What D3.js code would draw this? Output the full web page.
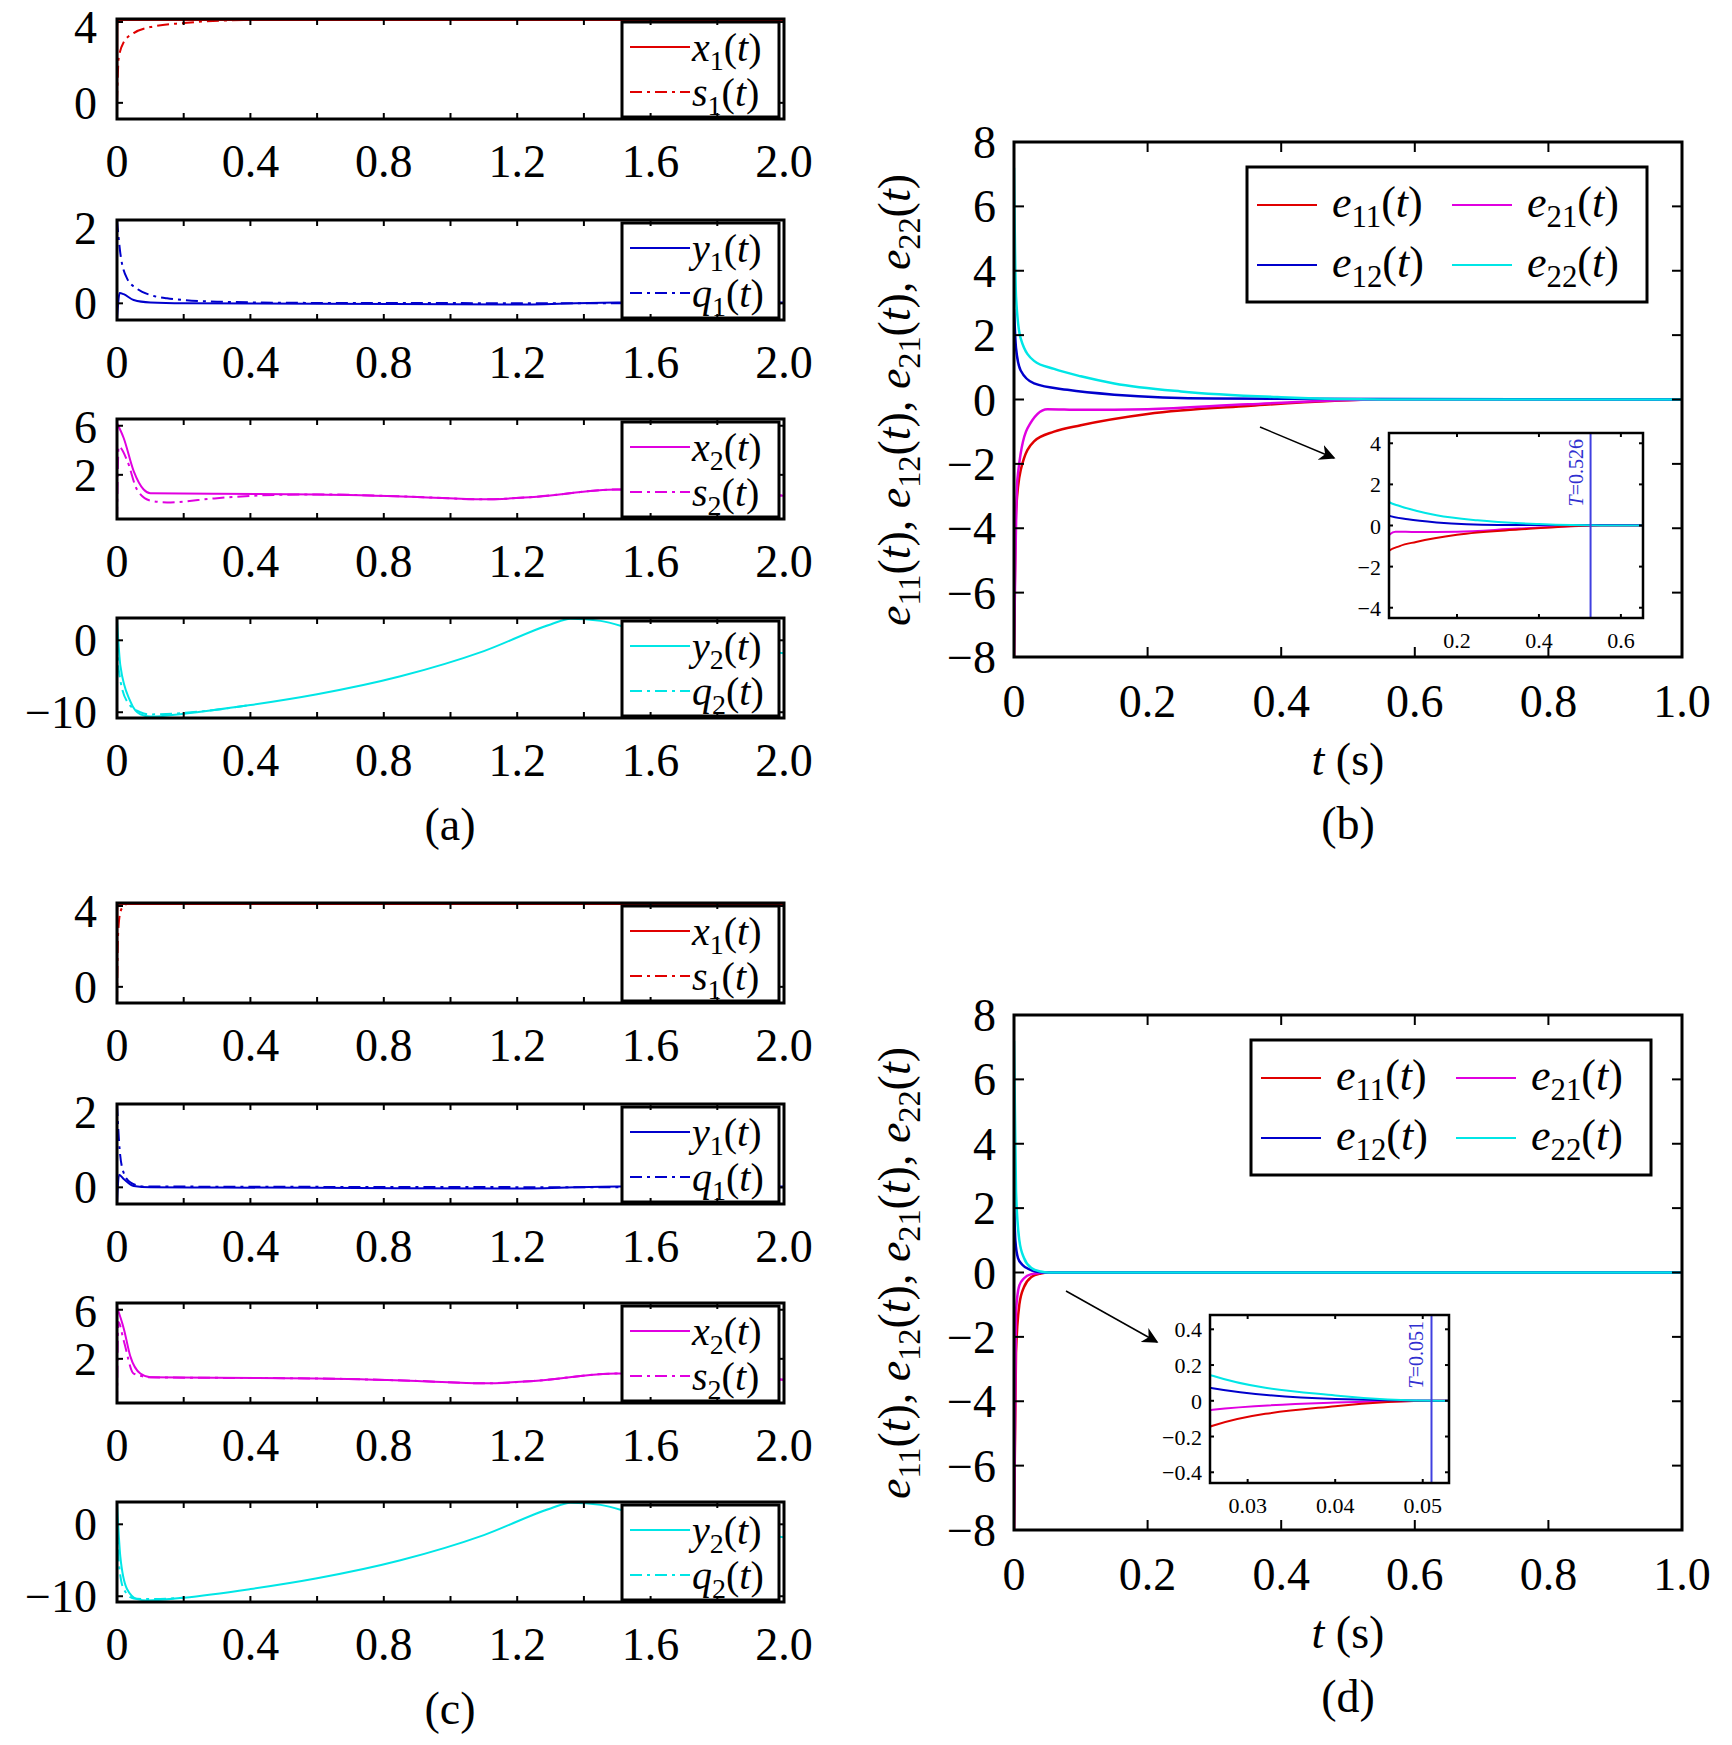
<!DOCTYPE html>
<html><head><meta charset="utf-8">
<script src="https://cdn.jsdelivr.net/npm/d3@7"></script>
<style>body{margin:0;background:#fff}text{font-family:"Liberation Serif","Times New Roman","DejaVu Serif",serif;fill:#000}</style>
</head><body><svg id="c" width="1732" height="1745"></svg>
<script>
// --- data ---
var tA_x1 = [0, 0.001, 0.003, 2.0], vA_x1 = [-0.8, 3.8, 4.1, 4.1];
var tA_s1 = [0, 0.005, 0.02, 0.05, 0.1, 0.2, 0.4, 2.0], vA_s1 = [0, 2.2, 3.0, 3.45, 3.75, 3.95, 4.1, 4.1];
var tA_y1 = [0, 0.008, 0.02, 0.05, 0.1, 0.2, 0.6, 1.2, 1.5, 2.0], vA_y1 = [-0.4, 0.25, 0.22, 0.08, 0.02, 0, -0.01, -0.03, 0.02, 0.02];
var tA_q1 = [0, 0.01, 0.03, 0.06, 0.1, 0.15, 0.3, 0.6, 2.0], vA_q1 = [2.0, 1.2, 0.6, 0.35, 0.2, 0.12, 0.04, 0.01, 0];
var tA_x2 = [0, 0.02, 0.05, 0.08, 0.1, 0.3, 0.6, 0.9, 1.1, 1.25, 1.5, 2.0], vA_x2 = [6.2, 5.0, 2.3, 0.8, 0.5, 0.45, 0.4, 0.2, 0.0, 0.2, 0.8, 0.3];
var tA_s2 = [0, 0.005, 0.03, 0.06, 0.1, 0.15, 0.3, 0.5, 0.6, 0.9, 1.1, 1.25, 1.5, 2.0], vA_s2 = [-1.6, 4.3, 3.2, 0.8, -0.1, -0.25, 0.1, 0.38, 0.4, 0.2, 0.0, 0.2, 0.8, 0.3];
var tA_y2 = [0, 0.01, 0.04, 0.07, 0.1, 0.2, 0.4, 0.6, 0.85, 1.1, 1.3, 1.36, 1.45, 1.55, 2.0], vA_y2 = [3, -3.5, -8.5, -10.3, -10.6, -10.2, -9.0, -7.5, -5.0, -1.5, 2.2, 3.0, 2.7, 1.5, -1.8];
var tA_q2 = [0, 0.005, 0.03, 0.07, 0.1, 0.2, 0.4], vA_q2 = [0, -4.0, -8.5, -10.0, -10.3, -10.1, -9.0];

var tC_x1 = [0, 0.001, 0.003, 2.0], vC_x1 = [-0.8, 3.8, 4.1, 4.1];
var tC_s1 = [0, 0.003, 0.01, 0.02, 0.03, 2.0], vC_s1 = [-0.8, 2.5, 3.7, 4.0, 4.1, 4.1];
var tC_y1 = [0, 0.006, 0.02, 0.05, 0.1, 0.6, 1.2, 1.5, 2.0], vC_y1 = [-0.4, 0.3, 0.2, 0.03, 0, -0.01, -0.03, 0.02, 0.02];
var tC_q1 = [0, 0.008, 0.02, 0.04, 0.08, 2.0], vC_q1 = [2.0, 0.9, 0.35, 0.12, 0.02, 0];
var tC_x2 = [0, 0.02, 0.04, 0.07, 0.1, 0.3, 0.6, 0.9, 1.1, 1.25, 1.5, 2.0], vC_x2 = [6.2, 4.5, 2.2, 0.8, 0.5, 0.45, 0.4, 0.2, 0.0, 0.2, 0.8, 0.3];
var tC_s2 = [0, 0.004, 0.02, 0.05, 0.1, 0.3, 0.6, 0.9, 1.1, 1.25, 1.5, 2.0], vC_s2 = [-1.6, 5.0, 3.5, 0.8, 0.5, 0.45, 0.4, 0.2, 0.0, 0.2, 0.8, 0.3];
var tC_y2 = [0, 0.01, 0.03, 0.06, 0.09, 0.2, 0.4, 0.6, 0.85, 1.1, 1.3, 1.36, 1.45, 1.55, 2.0], vC_y2 = [3, -4.5, -9.0, -10.4, -10.6, -10.2, -9.0, -7.5, -5.0, -1.5, 2.2, 3.0, 2.7, 1.5, -1.8];
var tC_q2 = [0, 0.005, 0.02, 0.05, 0.1, 0.2], vC_q2 = [0, -5.0, -9.0, -10.3, -10.4, -10.2];

var tB_e11 = [0, 0.003, 0.01, 0.03, 0.06, 0.1, 0.2, 0.35, 0.55, 1.0], vB_e11 = [-8, -3.5, -2.2, -1.3, -1.0, -0.8, -0.45, -0.2, 0, 0];
var tB_e12 = [0, 0.003, 0.01, 0.03, 0.08, 0.15, 0.3, 1.0], vB_e12 = [2.8, 1.6, 0.9, 0.5, 0.3, 0.15, 0.03, 0];
var tB_e21 = [0, 0.005, 0.02, 0.05, 0.1, 0.2, 0.35, 0.55, 1.0], vB_e21 = [-8, -2.5, -0.9, -0.3, -0.32, -0.3, -0.15, 0, 0];
var tB_e22 = [0, 0.003, 0.01, 0.03, 0.06, 0.1, 0.15, 0.25, 0.4, 0.55, 1.0], vB_e22 = [7.2, 3.2, 1.9, 1.2, 0.95, 0.72, 0.5, 0.25, 0.07, 0, 0];

var tD_e11 = [0, 0.003, 0.008, 0.015, 0.026, 0.04, 0.052, 1.0], vD_e11 = [-8, -2.5, -1.0, -0.45, -0.14, -0.03, 0, 0];
var tD_e12 = [0, 0.002, 0.006, 0.012, 0.026, 0.04, 0.052, 1.0], vD_e12 = [2.2, 1.0, 0.45, 0.25, 0.07, 0.01, 0, 0];
var tD_e21 = [0, 0.003, 0.008, 0.015, 0.026, 0.04, 0.052, 1.0], vD_e21 = [-8, -1.2, -0.4, -0.18, -0.05, -0.01, 0, 0];
var tD_e22 = [0, 0.003, 0.008, 0.015, 0.026, 0.04, 0.052, 1.0], vD_e22 = [7.2, 2.5, 1.0, 0.45, 0.14, 0.03, 0, 0];

var aTicks = [0, 0.4, 0.8, 1.2, 1.6, 2.0];
var bTicks = [0, 0.2, 0.4, 0.6, 0.8, 1.0];
var eTicks = [-8, -6, -4, -2, 0, 2, 4, 6, 8];
var red = "#e00000", blue = "#0000cc", mag = "#e000e0", cyan = "#00e6e6";

var svg = d3.select("#c");
var clipN = 0;
function zip(t, v) { return t.map(function (d, i) { return [d, v[i]]; }); }
function fmt(d) { return d < 0 ? "\u2212" + Math.abs(d) : String(d); }

function curve(g, x, y, t, v, color, dash, w) {
  g.append("path").datum(zip(t, v))
    .attr("fill", "none").attr("stroke", color).attr("stroke-width", w || 2)
    .attr("stroke-dasharray", dash ? "12,5,3,5" : null)
    .attr("d", d3.line().x(function (d) { return x(d[0]); }).y(function (d) { return y(d[1]); }).curve(d3.curveMonotoneX));
}

function frame(g, x, y, xt, yt, len, sw) {
  var r = x.range(), b = y.range();
  xt.forEach(function (t) {
    g.append("line").attr("x1", x(t)).attr("x2", x(t)).attr("y1", b[0]).attr("y2", b[0] - len).attr("stroke", "#000").attr("stroke-width", 2);
    g.append("line").attr("x1", x(t)).attr("x2", x(t)).attr("y1", b[1]).attr("y2", b[1] + len).attr("stroke", "#000").attr("stroke-width", 2);
  });
  yt.forEach(function (t) {
    g.append("line").attr("y1", y(t)).attr("y2", y(t)).attr("x1", r[0]).attr("x2", r[0] + len).attr("stroke", "#000").attr("stroke-width", 2);
    g.append("line").attr("y1", y(t)).attr("y2", y(t)).attr("x1", r[1]).attr("x2", r[1] - len).attr("stroke", "#000").attr("stroke-width", 2);
  });
  g.append("rect").attr("x", r[0]).attr("y", b[1]).attr("width", r[1] - r[0]).attr("height", b[0] - b[1])
    .attr("fill", "none").attr("stroke", "#000").attr("stroke-width", sw);
}

function clip(g, x, y) {
  var id = "cp" + (clipN++), r = x.range(), b = y.range();
  g.append("clipPath").attr("id", id).append("rect").attr("x", r[0]).attr("y", b[1]).attr("width", r[1] - r[0]).attr("height", b[0] - b[1]);
  return g.append("g").attr("clip-path", "url(#" + id + ")");
}

function label(el, base, sub, size) {
  el.append("tspan").attr("font-style", "italic").text(base);
  el.append("tspan").attr("font-size", size * 0.7).attr("dy", size * 0.22).text(sub);
  el.append("tspan").attr("dy", -size * 0.22).text("(");
  el.append("tspan").attr("font-style", "italic").text("t");
  el.append("tspan").text(")");
}

// small stacked panel
function small(top, yDom, yTicks, tA, vA, tB, vB, color, n1, n2, sub) {
  var x = d3.scaleLinear().domain([0, 2]).range([117, 784]);
  var y = d3.scaleLinear().domain(yDom).range([top + 100, top]);
  var g = svg.append("g");
  var cg = clip(g, x, y);
  curve(cg, x, y, tB, vB, color, true);
  curve(cg, x, y, tA, vA, color, false);
  // legend
  var lg = g.append("g");
  lg.append("rect").attr("x", 622).attr("y", top + 3).attr("width", 157).attr("height", 95).attr("fill", "#fff").attr("stroke", "#000").attr("stroke-width", 3);
  [[n1, false, top + 28], [n2, true, top + 73]].forEach(function (e) {
    lg.append("line").attr("x1", 630).attr("x2", 690).attr("y1", e[2]).attr("y2", e[2]).attr("stroke", color).attr("stroke-width", 2)
      .attr("stroke-dasharray", e[1] ? "12,5,3,5" : null);
    label(lg.append("text").attr("x", 692).attr("y", e[2] + 14).attr("font-size", 40), e[0], sub, 40);
  });
  frame(g, x, y, d3.range(0, 2.01, 0.2), yTicks, 6, 3);
  aTicks.forEach(function (t) {
    g.append("text").attr("x", x(t)).attr("y", top + 158).attr("text-anchor", "middle").attr("font-size", 46).text(t === 0 ? "0" : t.toFixed(1));
  });
  yTicks.forEach(function (t) {
    g.append("text").attr("x", 97).attr("y", Math.max(y(t) + 16, top + 24)).attr("text-anchor", "end").attr("font-size", 46).text(fmt(t));
  });
}

function stack(off, d) {
  small(off + 19, [-0.8, 4.15], [0, 4], d[0], d[1], d[2], d[3], red, "x", "s", "1");
  small(off + 220, [-0.4, 2.0], [0, 2], d[4], d[5], d[6], d[7], blue, "y", "q", "1");
  small(off + 419, [-1.6, 6.55], [2, 6], d[8], d[9], d[10], d[11], mag, "x", "s", "2");
  small(off + 618, [-10.8, 3.1], [-10, 0], d[12], d[13], d[14], d[15], cyan, "y", "q", "2");
}
stack(0, [tA_x1, vA_x1, tA_s1, vA_s1, tA_y1, vA_y1, tA_q1, vA_q1, tA_x2, vA_x2, tA_s2, vA_s2, tA_y2, vA_y2, tA_q2, vA_q2]);
stack(884, [tC_x1, vC_x1, tC_s1, vC_s1, tC_y1, vC_y1, tC_q1, vC_q1, tC_x2, vC_x2, tC_s2, vC_s2, tC_y2, vC_y2, tC_q2, vC_q2]);
svg.append("text").attr("x", 450).attr("y", 840).attr("text-anchor", "middle").attr("font-size", 46).text("(a)");
svg.append("text").attr("x", 450).attr("y", 1724).attr("text-anchor", "middle").attr("font-size", 46).text("(c)");

// error panels
function errPanel(top, d, inset, tag) {
  var x = d3.scaleLinear().domain([0, 1]).range([1014, 1682]);
  var y = d3.scaleLinear().domain([-8, 8]).range([top + 515, top]);
  var g = svg.append("g");
  var cg = clip(g, x, y);
  var cols = [red, blue, mag, cyan];
  [0, 2, 1, 3].forEach(function (k) { curve(cg, x, y, d[2 * k], d[2 * k + 1], cols[k], false, 2.5); });
  frame(g, x, y, bTicks, eTicks, 10, 3);
  bTicks.forEach(function (t) {
    g.append("text").attr("x", x(t)).attr("y", top + 575).attr("text-anchor", "middle").attr("font-size", 46).text(t === 0 ? "0" : t.toFixed(1));
  });
  eTicks.forEach(function (t) {
    g.append("text").attr("x", 996).attr("y", y(t) + 16).attr("text-anchor", "end").attr("font-size", 46).text(fmt(t));
  });
  // y label
  var yl = g.append("text").attr("transform", "translate(910," + (top + 258) + ") rotate(-90)").attr("text-anchor", "middle").attr("font-size", 46);
  ["11", "12", "21", "22"].forEach(function (s, i) { label(yl, "e", s, 46); if (i < 3) yl.append("tspan").text(", "); });
  var xl = g.append("text").attr("x", 1348).attr("y", top + 633).attr("text-anchor", "middle").attr("font-size", 46);
  xl.append("tspan").attr("font-style", "italic").text("t");
  xl.append("tspan").text(" (s)");
  g.append("text").attr("x", 1348).attr("y", top + 697).attr("text-anchor", "middle").attr("font-size", 46).text(tag);
  // legend
  var lx = inset.lx, ly = top + 25;
  g.append("rect").attr("x", lx).attr("y", ly).attr("width", 400).attr("height", 135).attr("fill", "#fff").attr("stroke", "#000").attr("stroke-width", 3);
  [["11", red, 0, 0], ["21", mag, 1, 0], ["12", blue, 0, 1], ["22", cyan, 1, 1]].forEach(function (e) {
    var ex = lx + 10 + e[2] * 195, ey = ly + 38 + e[3] * 60;
    g.append("line").attr("x1", ex).attr("x2", ex + 60).attr("y1", ey).attr("y2", ey).attr("stroke", e[1]).attr("stroke-width", 2);
    label(g.append("text").attr("x", ex + 75).attr("y", ey + 12).attr("font-size", 44), "e", e[0], 44);
  });
  // arrow
  var a = inset.arrow;
  g.append("defs").append("marker").attr("id", "ar" + tag.charCodeAt(1)).attr("viewBox", "0 0 10 10").attr("refX", 9).attr("refY", 5)
    .attr("markerWidth", 16).attr("markerHeight", 16).attr("markerUnits", "userSpaceOnUse").attr("orient", "auto")
    .append("path").attr("d", "M0,0 L10,5 L0,10 L3,5 Z").attr("fill", "#000");
  g.append("line").attr("x1", a[0]).attr("y1", a[1]).attr("x2", a[2]).attr("y2", a[3]).attr("stroke", "#000").attr("stroke-width", 1.5)
    .attr("marker-end", "url(#ar" + tag.charCodeAt(1) + ")");
  // inset
  var ix = d3.scaleLinear().domain(inset.xd).range(inset.xr);
  var iy = d3.scaleLinear().domain(inset.yd).range(inset.yr);
  g.append("rect").attr("x", inset.xr[0]).attr("y", inset.yr[1]).attr("width", inset.xr[1] - inset.xr[0]).attr("height", inset.yr[0] - inset.yr[1]).attr("fill", "#fff");
  var ic = clip(g, ix, iy);
  [2, 0, 1, 3].forEach(function (k) { curve(ic, ix, iy, d[2 * k], d[2 * k + 1], cols[k], false, 2); });
  ic.append("line").attr("x1", ix(inset.T)).attr("x2", ix(inset.T)).attr("y1", inset.yr[0]).attr("y2", inset.yr[1]).attr("stroke", "#4040e0").attr("stroke-width", 2);
  g.append("text").attr("transform", "translate(" + (ix(inset.T) - 8) + "," + (inset.yr[1] + 6) + ") rotate(-90)").attr("text-anchor", "end")
    .attr("font-size", 20).style("fill", "#3030d0").html("<tspan font-style='italic'>T</tspan>=" + inset.T);
  frame(g, ix, iy, inset.xt, inset.yt, 4, 2.5);
  inset.xt.forEach(function (t) {
    g.append("text").attr("x", ix(t)).attr("y", inset.yr[0] + 30).attr("text-anchor", "middle").attr("font-size", 22).text(String(t));
  });
  inset.yt.forEach(function (t) {
    g.append("text").attr("x", inset.xr[0] - 8).attr("y", iy(t) + 8).attr("text-anchor", "end").attr("font-size", 22).text(fmt(t));
  });
}

errPanel(142, [tB_e11, vB_e11, tB_e12, vB_e12, tB_e21, vB_e21, tB_e22, vB_e22], {
  lx: 1247, arrow: [1260, 427, 1334, 458],
  xd: [0.034, 0.654], xr: [1389, 1643], yd: [-4.5, 4.5], yr: [618, 433],
  xt: [0.2, 0.4, 0.6], yt: [-4, -2, 0, 2, 4], T: 0.526
}, "(b)");
errPanel(1015, [tD_e11, vD_e11, tD_e12, vD_e12, tD_e21, vD_e21, tD_e22, vD_e22], {
  lx: 1251, arrow: [1066, 1291, 1157, 1342],
  xd: [0.0257, 0.053], xr: [1210, 1449], yd: [-0.46, 0.48], yr: [1483, 1315],
  xt: [0.03, 0.04, 0.05], yt: [-0.4, -0.2, 0, 0.2, 0.4], T: 0.051
}, "(d)");
</script></body></html>
